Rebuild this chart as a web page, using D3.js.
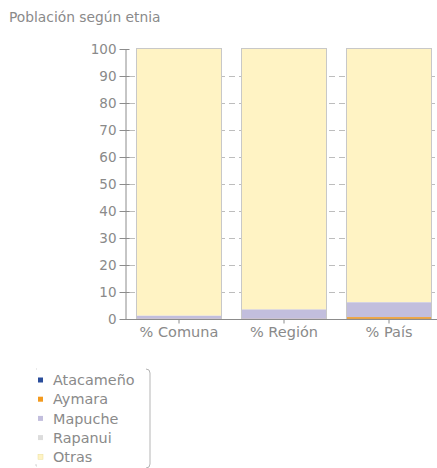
<!DOCTYPE html>
<html><head><meta charset="utf-8">
<script src="https://cdn.jsdelivr.net/npm/d3@7"></script>
<style>body{margin:0;background:#fff;}svg{display:block;font-family:"DejaVu Sans",sans-serif;}</style>
</head><body>
<svg id="c" width="437" height="468"></svg>
<script>
const title = "Población según etnia";
const categories = ["% Comuna", "% Región", "% País"];
const seriesNames = ["Atacameño", "Aymara", "Mapuche", "Rapanui", "Otras"];
const atacameno = [0.0, 0.0, 0.1];
const aymara = [0.1, 0.1, 0.6];
const mapuche = [1.2, 3.5, 5.5];
const rapanui = [0.0, 0.0, 0.1];
const otras = [98.7, 96.4, 93.7];
const yTicks = [0, 10, 20, 30, 40, 50, 60, 70, 80, 90, 100];
const colors = ["#2a4d9b", "#f39a1e", "#c2bedd", "#dcdcdc", "#fff3c4"];

const seriesVals = [atacameno, aymara, mapuche, rapanui, otras];
const rows = categories.map((c, i) => {
  const r = {cat: c};
  seriesNames.forEach((s, j) => r[s] = seriesVals[j][i]);
  return r;
});

const svg = d3.select("#c");
const x = d3.scaleBand().domain(categories).range([126.5, 441.5]).paddingInner(0.2).paddingOuter(0.1);
const y = d3.scaleLinear().domain([0, 100]).range([319, 49]);

svg.append("text").attr("x", 9).attr("y", 22).attr("fill", "#8a8a8a")
  .style("font-size", "13.8px").text(title);

// gridlines
svg.append("g").selectAll("line").data(yTicks.filter(t => t > 0 && t < 100)).join("line")
  .attr("x1", 129).attr("x2", 437).attr("y1", d => Math.round(y(d)) + 0.5).attr("y2", d => Math.round(y(d)) + 0.5)
  .attr("stroke", "#bdbdbd").attr("stroke-dasharray", "6,4");

// bars
const totals = rows.map(r => seriesNames.reduce((a, s) => a + r[s], 0));
const g = svg.append("g");
g.selectAll("rect.o").data(categories).join("rect").attr("class", "o")
  .attr("x", d => x(d) - 0.5).attr("width", x.bandwidth() + 1)
  .attr("y", (d, i) => y(totals[i]) - 0.5).attr("height", (d, i) => y(0) - y(totals[i]) + 0.5)
  .attr("fill", "none").attr("stroke", "#c8c8c8");
const stack = d3.stack().keys(seriesNames)(rows);
g.selectAll("g").data(stack).join("g").attr("fill", (d, i) => colors[i])
  .selectAll("rect").data(d => d).join("rect")
  .attr("x", d => x(d.data.cat)).attr("width", x.bandwidth())
  .attr("y", d => y(d[1])).attr("height", d => Math.max(0, y(d[0]) - y(d[1])));

// y axis
const ya = svg.append("g").attr("transform", "translate(125.5,0)")
  .call(d3.axisLeft(y).tickValues(yTicks).tickSize(6).tickSizeOuter(0));
ya.select(".domain").attr("stroke", "#8c8c8c");
ya.selectAll(".tick line").attr("stroke", "#8c8c8c").attr("x2", -6).attr("x1", 4);
ya.selectAll(".tick text").attr("fill", "#8a8a8a").attr("x", -9).attr("dy", "0.36em")
  .style("font-size", "13.5px").style("font-family", "DejaVu Sans");

// x axis
const xa = svg.append("g").attr("transform", "translate(0,319.5)")
  .call(d3.axisBottom(x).tickSize(4).tickSizeOuter(0));
xa.select(".domain").attr("d", "M125,0H437").attr("stroke", "#8c8c8c");
xa.selectAll(".tick line").attr("stroke", "#8c8c8c");
xa.selectAll(".tick text").attr("fill", "#8a8a8a").attr("y", 7).attr("dy", "0.71em")
  .style("font-size", "14.5px").style("font-family", "DejaVu Sans");

// legend
const lg = svg.append("g");
lg.append("path").attr("d", "M146,369 Q150,369 150,373 V464 Q150,468 146,468")
  .attr("fill", "none").attr("stroke", "#b5b5b5");
lg.append("path").attr("d", "M36,369 h1 M36,464 v2 h1").attr("stroke", "#d5d5d5").attr("fill", "none");
const items = lg.selectAll("g.it").data(seriesNames).join("g").attr("class", "it")
  .attr("transform", (d, i) => `translate(38,${380 + i * 19.2})`);
items.append("rect").attr("x", 0).attr("y", -2.5).attr("width", 5).attr("height", 5)
  .attr("fill", (d, i) => colors[i])
  .attr("stroke", (d, i) => i === 4 ? "#eadf9a" : "none").attr("stroke-width", 0.5);
items.append("text").attr("x", 15).attr("y", 0).attr("dy", "0.36em").attr("fill", "#8a8a8a")
  .style("font-size", "14.4px").text(d => d);
</script>
</body></html>
